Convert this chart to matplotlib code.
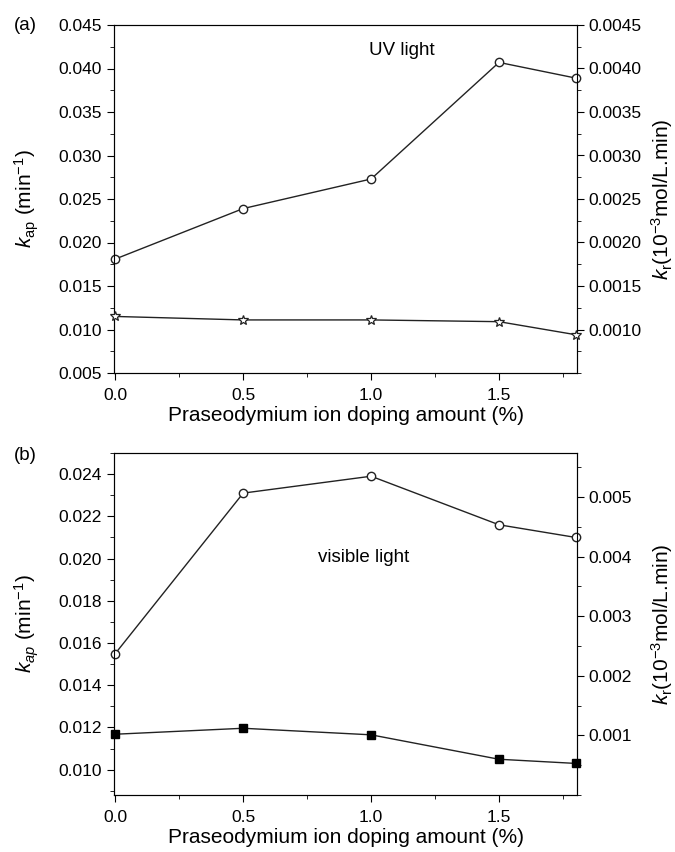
import numpy as np
import matplotlib
matplotlib.use("Agg")
from matplotlib import pyplot as plt
from matplotlib.ticker import MultipleLocator, FormatStrFormatter

plt.rcParams['font.family'] = ['Liberation Sans', 'DejaVu Sans']
plt.rcParams['mathtext.fontset'] = 'custom'
plt.rcParams['mathtext.rm'] = 'Liberation Sans'
plt.rcParams['mathtext.it'] = 'Liberation Sans:italic'
plt.rcParams['font.size'] = 12.5

# doping amount (%)
doping = [0.0, 0.5, 1.0, 1.5, 1.8]

# (a) UV light
uv_kap = [0.0181, 0.0239, 0.0273, 0.0407, 0.0389]
uv_kr = [0.00115, 0.00111, 0.00111, 0.00109, 0.00094]

# (b) visible light
vis_kap = [0.0155, 0.0231, 0.0239, 0.0216, 0.0210]
vis_kr = [0.00102, 0.00112, 0.00101, 0.00060, 0.00053]

line_c = '#222222'
fig = plt.figure(figsize=(6.75, 8.52), dpi=100)
W, H = 675, 852
axa = fig.add_axes([114 / W, 1 - 373 / H, 463 / W, 348 / H])
axb = fig.add_axes([114 / W, 1 - 795 / H, 463 / W, 342 / H])


def style_x(ax):
    ax.set_xlim(-0.005, 1.805)
    ax.xaxis.set_major_locator(MultipleLocator(0.5))
    ax.xaxis.set_minor_locator(MultipleLocator(0.25))
    ax.xaxis.set_major_formatter(FormatStrFormatter('%.1f'))
    ax.set_xlabel('Praseodymium ion doping amount (%)', fontsize=15, labelpad=2)
    ax.tick_params(which='both', direction='out', top=False, right=False)
    ax.tick_params(axis='x', which='major', pad=6)
    ax.tick_params(which='major', length=5)
    ax.tick_params(which='minor', length=3)
    for s in ax.spines.values():
        s.set_color('#333333')


def style_right(ax):
    ax.tick_params(which='both', direction='out')
    ax.tick_params(which='major', length=5)
    ax.tick_params(which='minor', length=3)
    ax.set_ylabel(r'$k_{\rm r}$(10$^{-3}$mol/L.min)', fontsize=15, rotation=90)
    ax.yaxis.set_label_coords(1.156, 0.5)


# ---- panel (a) ----
axa.plot(doping, uv_kap, '-o', color=line_c, lw=1, ms=6, mfc='white', mec=line_c, mew=1,
         clip_on=False, zorder=3)
axa.set_ylim(0.005, 0.045)
axa.yaxis.set_major_locator(MultipleLocator(0.005))
axa.yaxis.set_minor_locator(MultipleLocator(0.0025))
axa.yaxis.set_major_formatter(FormatStrFormatter('%.3f'))
axa.set_ylabel(r'$k_{\rm ap}$ (min$^{-1}$)', fontsize=15)
axa.yaxis.set_label_coords(-0.158, 0.5)
style_x(axa)
axa.text(0.55, 0.928, 'UV light', transform=axa.transAxes, fontsize=13.5, va='center')
fig.text(14 / W, 1 - 25 / H, '(a)', fontsize=13.5, va='center')

ra = axa.twinx()
ra.plot(doping, uv_kr, '-*', color=line_c, lw=1, ms=7, mfc='white', mec=line_c, mew=0.9,
        clip_on=False, zorder=3)
ra.set_ylim(0.0005, 0.0045)
ra.set_yticks(np.arange(0.0010, 0.00451, 0.0005))
ra.yaxis.set_minor_locator(MultipleLocator(0.00025))
ra.yaxis.set_major_formatter(FormatStrFormatter('%.4f'))
style_right(ra)

# ---- panel (b) ----
axb.plot(doping, vis_kap, '-o', color=line_c, lw=1, ms=6, mfc='white', mec=line_c, mew=1,
         clip_on=False, zorder=3)
axb.set_ylim(0.0088, 0.025)
axb.yaxis.set_major_locator(MultipleLocator(0.002))
axb.yaxis.set_minor_locator(MultipleLocator(0.001))
axb.yaxis.set_major_formatter(FormatStrFormatter('%.3f'))
axb.set_ylabel(r'$k_{ap}$ (min$^{-1}$)', fontsize=15)
axb.yaxis.set_label_coords(-0.158, 0.5)
style_x(axb)
axb.text(0.44, 0.695, 'visible light', transform=axb.transAxes, fontsize=13.5, va='center')
fig.text(14 / W, 1 - 456 / H, '(b)', fontsize=13.5, va='center')

rb = axb.twinx()
rb.plot(doping, vis_kr, '-s', color=line_c, lw=1, ms=6, mfc='black', mec='black',
        clip_on=False, zorder=3)
rb.set_ylim(0.0, 0.00574)
rb.set_yticks([0.001, 0.002, 0.003, 0.004, 0.005])
rb.yaxis.set_minor_locator(MultipleLocator(0.0005))
rb.yaxis.set_major_formatter(FormatStrFormatter('%.3f'))
style_right(rb)

plt.savefig('out.png', dpi=100)
